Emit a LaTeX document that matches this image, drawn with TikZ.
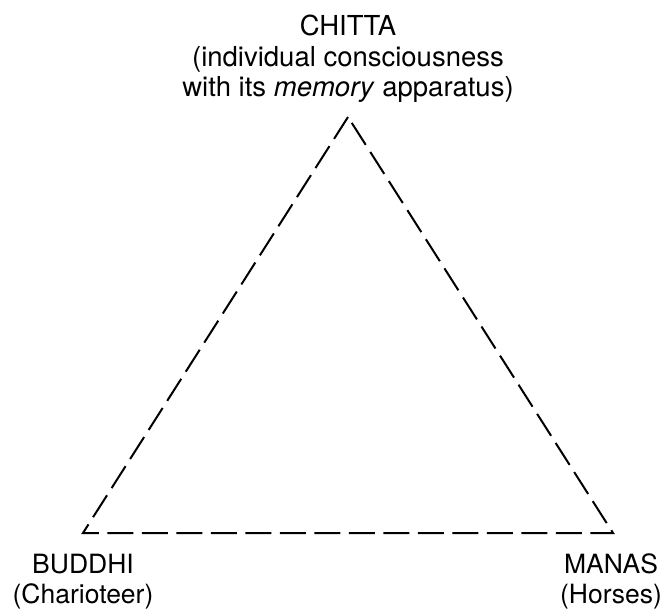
\documentclass[tikz,border=0pt]{standalone}
\usepackage{fontspec}
\setmainfont{TeX Gyre Heros}
\usetikzlibrary{calc}

\begin{document}
\begin{tikzpicture}[x=1pt,y=-1pt,
	lbl/.style={align=center,anchor=base,inner sep=0pt,font=\fontsize{26.5}{29.5}\selectfont}]
\useasboundingbox (0,0) rectangle (663,609);
\begin{scope}[yshift=0cm,xshift=0cm]
		\coordinate (A) at (348,117);
		\coordinate (B) at (83,533);
		\coordinate (C) at (613,533);
		\draw [line width=2pt,dash pattern=on 26pt off 8.5pt] (A) -- (B) -- (C) -- cycle;
		% base anchor = last line
		\node[lbl,font=\fontsize{27.5}{30.5}\selectfont] (chitta) at (348,97) {CHITTA\\(individual consciousness\\with its \textit{memory} apparatus)};
		\node[lbl] (buddhi) at (83,603) {BUDDHI\\(Charioteer)};
		\node[lbl] (manas) at (611,603) {MANAS\\(Horses)};
\end{scope}
\end{tikzpicture}
\end{document}
